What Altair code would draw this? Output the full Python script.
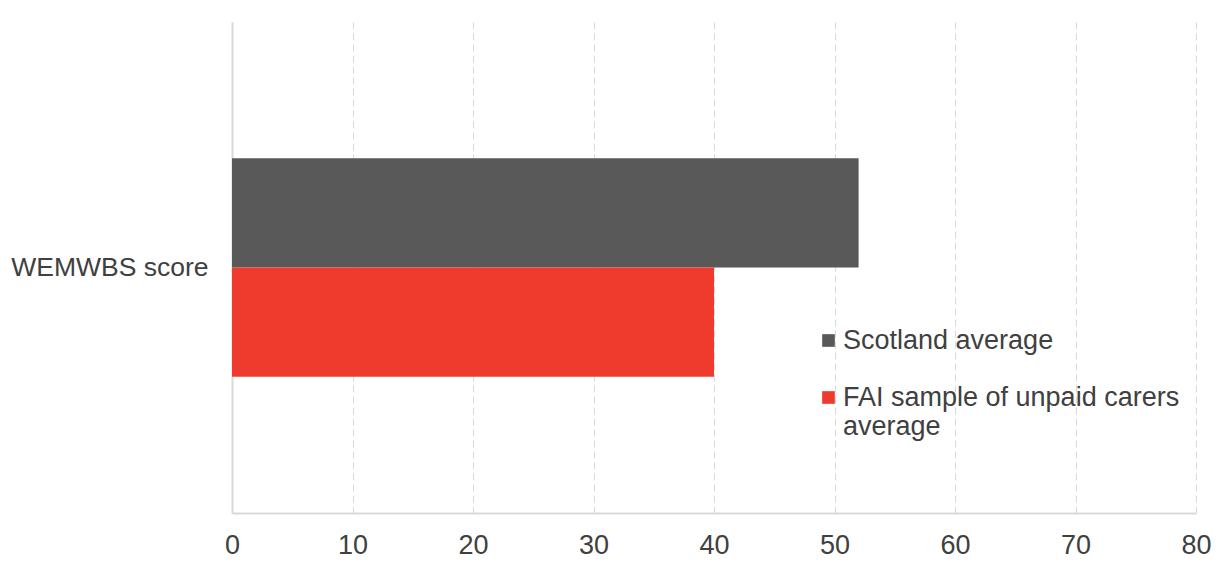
import altair as alt
import pandas as pd

category = ["WEMWBS score"]
series = ["Scotland average", "FAI sample of unpaid carers average"]
values = [52, 40]
colors = ["#595959", "#EE3B2E"]
x_ticks = [0, 10, 20, 30, 40, 50, 60, 70, 80]

df = pd.DataFrame({
    "measure": [category[0]] * len(series),
    "series": series,
    "value": values,
})

text_color = "#404040"
font = "Liberation Sans"
fs = 27

chart = (
    alt.Chart(df)
    .mark_bar()
    .encode(
        x=alt.X(
            "value:Q",
            scale=alt.Scale(domain=[0, 80], nice=False),
            axis=alt.Axis(
                values=x_ticks,
                title=None,
                ticks=False,
                grid=True,
                gridDash=[7, 4],
                gridColor="#d9d9d9",
                gridWidth=1,
                domainColor="#d9d9d9",
                domainWidth=2,
                labelFontSize=fs,
                labelColor=text_color,
                labelFont=font,
                labelPadding=19,
                labelFlush=False,
            ),
        ),
        y=alt.Y(
            "measure:N",
            scale=alt.Scale(paddingInner=0, paddingOuter=0.623),
            axis=alt.Axis(
                title=None,
                ticks=False,
                domainColor="#d9d9d9",
                domainWidth=2,
                labelFontSize=26.5,
                labelColor=text_color,
                labelFont=font,
                labelPadding=24,
                labelLimit=400,
            ),
        ),
        yOffset=alt.YOffset("series:N", sort=series, scale=alt.Scale(paddingInner=0, paddingOuter=0)),
        color=alt.Color(
            "series:N",
            sort=series,
            scale=alt.Scale(domain=series, range=colors),
            legend=alt.Legend(
                title=None,
                orient="none",
                legendX=583,
                legendY=305,
                symbolType="square",
                symbolSize=160,
                symbolStrokeWidth=0,
                labelFontSize=fs,
                labelColor=text_color,
                labelFont=font,
                labelOffset=1,
                labelLimit=500,
                rowPadding=29,
                labelExpr="datum.label == 'FAI sample of unpaid carers average' ? ['FAI sample of unpaid carers', 'average'] : datum.label",
            ),
        ),
    )
    .properties(
        width=964,
        height=491,
        padding={"left": 224, "top": 14, "right": 20, "bottom": 52},
        autosize=alt.AutoSizeParams(type="none"),
    )
    .configure_view(stroke=None)
)

chart.save("out.html", embed_options={"renderer": "svg", "actions": False})
